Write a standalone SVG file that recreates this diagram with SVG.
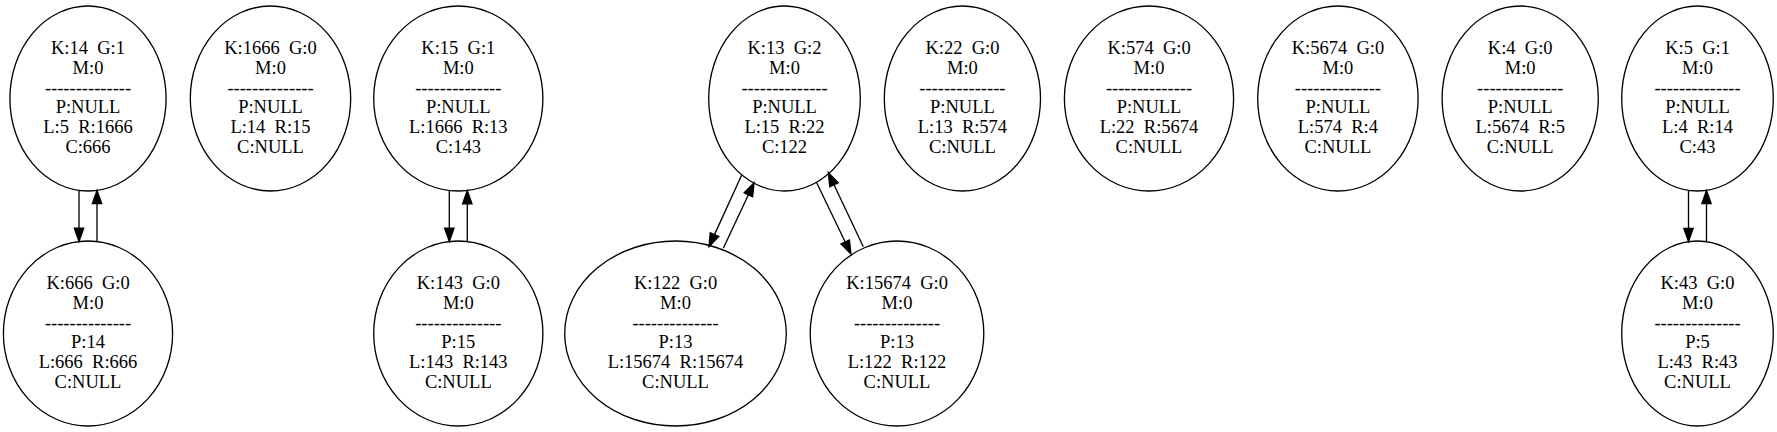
<svg xmlns="http://www.w3.org/2000/svg" width="1777" height="432" viewBox="0 0 1777 432" xml:space="preserve">
<defs>
<style>
.n ellipse{fill:none;stroke:#000;stroke-width:1.33}
.n text{font-family:"Liberation Serif","Times New Roman",serif;font-size:18.5px;text-anchor:middle;fill:#000;white-space:pre}
.e line{stroke:#000;stroke-width:1.33;fill:none;marker-end:url(#ah)}
</style>
<marker id="ah" markerUnits="userSpaceOnUse" markerWidth="16" markerHeight="12" refX="0" refY="4.67" orient="auto" overflow="visible"><path d="M0,0 L13.3,4.67 L0,9.34 Z" fill="#000" stroke="#000" stroke-width="1.33"/></marker>
</defs>
<rect width="1777" height="432" fill="#fff"/>
<g id="n14" class="n"><ellipse cx="88" cy="98.5" rx="78.1" ry="92.5"/><text x="88" y="53.9">K:14  G:1</text><text x="88" y="73.75">M:0</text><text x="88" y="93.6">--------------</text><text x="88" y="113.45">P:NULL</text><text x="88" y="133.3">L:5  R:1666</text><text x="88" y="153.15">C:666</text></g>
<g id="n1666" class="n"><ellipse cx="270.5" cy="98.5" rx="80.2" ry="92.5"/><text x="270.5" y="53.9">K:1666  G:0</text><text x="270.5" y="73.75">M:0</text><text x="270.5" y="93.6">--------------</text><text x="270.5" y="113.45">P:NULL</text><text x="270.5" y="133.3">L:14  R:15</text><text x="270.5" y="153.15">C:NULL</text></g>
<g id="n15" class="n"><ellipse cx="458.3" cy="98.5" rx="84.6" ry="92.5"/><text x="458.3" y="53.9">K:15  G:1</text><text x="458.3" y="73.75">M:0</text><text x="458.3" y="93.6">--------------</text><text x="458.3" y="113.45">P:NULL</text><text x="458.3" y="133.3">L:1666  R:13</text><text x="458.3" y="153.15">C:143</text></g>
<g id="n13" class="n"><ellipse cx="784.5" cy="98.5" rx="75.8" ry="92.5"/><text x="784.5" y="53.9">K:13  G:2</text><text x="784.5" y="73.75">M:0</text><text x="784.5" y="93.6">--------------</text><text x="784.5" y="113.45">P:NULL</text><text x="784.5" y="133.3">L:15  R:22</text><text x="784.5" y="153.15">C:122</text></g>
<g id="n22" class="n"><ellipse cx="962.4" cy="98.5" rx="78.1" ry="92.5"/><text x="962.4" y="53.9">K:22  G:0</text><text x="962.4" y="73.75">M:0</text><text x="962.4" y="93.6">--------------</text><text x="962.4" y="113.45">P:NULL</text><text x="962.4" y="133.3">L:13  R:574</text><text x="962.4" y="153.15">C:NULL</text></g>
<g id="n574" class="n"><ellipse cx="1149" cy="98.5" rx="84.6" ry="92.5"/><text x="1149" y="53.9">K:574  G:0</text><text x="1149" y="73.75">M:0</text><text x="1149" y="93.6">--------------</text><text x="1149" y="113.45">P:NULL</text><text x="1149" y="133.3">L:22  R:5674</text><text x="1149" y="153.15">C:NULL</text></g>
<g id="n5674" class="n"><ellipse cx="1337.9" cy="98.5" rx="80.2" ry="92.5"/><text x="1337.9" y="53.9">K:5674  G:0</text><text x="1337.9" y="73.75">M:0</text><text x="1337.9" y="93.6">--------------</text><text x="1337.9" y="113.45">P:NULL</text><text x="1337.9" y="133.3">L:574  R:4</text><text x="1337.9" y="153.15">C:NULL</text></g>
<g id="n4" class="n"><ellipse cx="1520.2" cy="98.5" rx="78.1" ry="92.5"/><text x="1520.2" y="53.9">K:4  G:0</text><text x="1520.2" y="73.75">M:0</text><text x="1520.2" y="93.6">--------------</text><text x="1520.2" y="113.45">P:NULL</text><text x="1520.2" y="133.3">L:5674  R:5</text><text x="1520.2" y="153.15">C:NULL</text></g>
<g id="n5" class="n"><ellipse cx="1697.5" cy="98.5" rx="75.8" ry="92.5"/><text x="1697.5" y="53.9">K:5  G:1</text><text x="1697.5" y="73.75">M:0</text><text x="1697.5" y="93.6">--------------</text><text x="1697.5" y="113.45">P:NULL</text><text x="1697.5" y="133.3">L:4  R:14</text><text x="1697.5" y="153.15">C:43</text></g>
<g id="n666" class="n"><ellipse cx="88" cy="333.5" rx="84.6" ry="92.5"/><text x="88" y="288.9">K:666  G:0</text><text x="88" y="308.75">M:0</text><text x="88" y="328.6">--------------</text><text x="88" y="348.45">P:14</text><text x="88" y="368.3">L:666  R:666</text><text x="88" y="388.15">C:NULL</text></g>
<g id="n143" class="n"><ellipse cx="458.3" cy="333.5" rx="84.6" ry="92.5"/><text x="458.3" y="288.9">K:143  G:0</text><text x="458.3" y="308.75">M:0</text><text x="458.3" y="328.6">--------------</text><text x="458.3" y="348.45">P:15</text><text x="458.3" y="368.3">L:143  R:143</text><text x="458.3" y="388.15">C:NULL</text></g>
<g id="n122" class="n"><ellipse cx="675.5" cy="333.5" rx="110.8" ry="92.5"/><text x="675.5" y="288.9">K:122  G:0</text><text x="675.5" y="308.75">M:0</text><text x="675.5" y="328.6">--------------</text><text x="675.5" y="348.45">P:13</text><text x="675.5" y="368.3">L:15674  R:15674</text><text x="675.5" y="388.15">C:NULL</text></g>
<g id="n15674" class="n"><ellipse cx="897" cy="333.5" rx="86.8" ry="92.5"/><text x="897" y="288.9">K:15674  G:0</text><text x="897" y="308.75">M:0</text><text x="897" y="328.6">--------------</text><text x="897" y="348.45">P:13</text><text x="897" y="368.3">L:122  R:122</text><text x="897" y="388.15">C:NULL</text></g>
<g id="n43" class="n"><ellipse cx="1697.5" cy="333.5" rx="75.8" ry="92.5"/><text x="1697.5" y="288.9">K:43  G:0</text><text x="1697.5" y="308.75">M:0</text><text x="1697.5" y="328.6">--------------</text><text x="1697.5" y="348.45">P:5</text><text x="1697.5" y="368.3">L:43  R:43</text><text x="1697.5" y="388.15">C:NULL</text></g>
<g id="edges" class="e">
<line x1="79" y1="190.4" x2="79" y2="228.2"/>
<line x1="97" y1="241.5" x2="97" y2="203.7"/>
<line x1="449.3" y1="190.5" x2="449.3" y2="228.2"/>
<line x1="467.3" y1="241.5" x2="467.3" y2="203.8"/>
<line x1="1688.5" y1="190.4" x2="1688.5" y2="228.3"/>
<line x1="1706.5" y1="241.6" x2="1706.5" y2="203.7"/>
<line x1="741.7" y1="175" x2="714.5" y2="234.6"/>
<line x1="723.3" y1="248.3" x2="748.4" y2="194.8"/>
<line x1="816.7" y1="182.7" x2="845.2" y2="242"/>
<line x1="863.3" y1="246.7" x2="834" y2="184.7"/>
</g>
</svg>
